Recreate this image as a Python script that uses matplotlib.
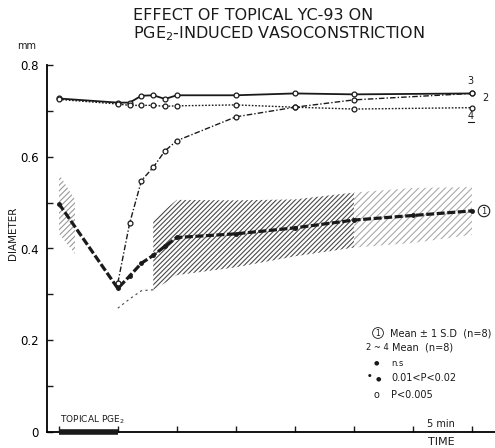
import matplotlib
matplotlib.use("Agg")
import matplotlib.pyplot as plt
import numpy as np
from matplotlib.patches import Rectangle

# ---------------- data ----------------
t_main = [0, 5, 6, 7, 8, 9, 10, 15, 20, 25, 35]          # minutes
curve3 = [0.727, 0.718, 0.718, 0.733, 0.734, 0.726, 0.734, 0.734, 0.738, 0.736, 0.738]
curve4 = [0.725, 0.715, 0.712, 0.712, 0.712, 0.710, 0.711, 0.713, 0.708, 0.704, 0.707]
t_c2 = [5, 6, 7, 8, 9, 10, 15, 20, 25, 35]
curve2 = [0.325, 0.455, 0.548, 0.577, 0.613, 0.635, 0.687, 0.708, 0.724, 0.738]
t_c1 = [0, 5, 6, 7, 8, 9, 10, 15, 20, 25, 30, 35]
mean1 = [0.498, 0.313, 0.340, 0.368, 0.385, 0.405, 0.424, 0.432, 0.445, 0.462, 0.472, 0.482]
sd1 = [0.065, 0.043, 0.050, 0.060, 0.075, 0.080, 0.082, 0.073, 0.062, 0.060, 0.060, 0.052]
pge_period = [0, 5]
yticks_major = [0, 0.2, 0.4, 0.6, 0.8]
ytick_labels = ["0", "0.2", "0.4", "0.6", "0.8"]
yticks_minor = [0.1, 0.3, 0.5, 0.7]
xticks = [0, 5, 10, 15, 20, 25, 30, 35]

plt.rcParams['hatch.linewidth'] = 0.8
W, H = 495, 448
fig = plt.figure(figsize=(W / 100, H / 100), dpi=100)
ax = fig.add_axes([47 / W, 1 - 432 / H, 1 - 47 / W, (432 - 65) / H])
ax.set_xlim(-1.0, 36.95)
ax.set_ylim(0, 0.8)

t1 = np.array(t_c1, float)
m1 = np.array(mean1)
s1 = np.array(sd1)
ink = '#1a1a1a'

# SD band: left patch (clipped near start)
band_left = ax.fill_between(t1[:2], (m1 - s1)[:2], (m1 + s1)[:2], facecolor='none',
                            edgecolor='#9a9a9a', hatch='//////', linewidth=0)
band_left.set_clip_path(Rectangle((0, 0), 1.4, 0.8, transform=ax.transData))
# main dark band
w_dark = (t1 >= 8) & (t1 <= 25)
ax.fill_between(t1, m1 - s1, m1 + s1, where=w_dark, facecolor='none',
                edgecolor='#4a4a4a', hatch='///////', linewidth=0)
# lighter band at the end
w_light = t1 >= 25
ax.fill_between(t1, m1 - s1, m1 + s1, where=w_light, facecolor='none',
                edgecolor='#aaaaaa', hatch='/////', linewidth=0)
# lower SD bound near the trough
ax.plot(t1[1:5], (m1 - s1)[1:5], linestyle=(0, (2, 3)), color='#444444', lw=0.8)

# curve 1 mean
ax.plot(t1, m1, color=ink, lw=2.3, linestyle=(0, (2.5, 0.8)), marker='o',
        markersize=2.5, markerfacecolor=ink, markeredgecolor=ink)

# curves 2-4
ax.plot(t_main, curve3, color=ink, lw=1.3, linestyle='-', marker='o', markersize=3.5,
        markerfacecolor='white', markeredgecolor=ink, markeredgewidth=0.9)
ax.plot(t_main, curve4, color=ink, lw=1.0, linestyle=(0, (1.2, 1.2)), marker='o', markersize=3.5,
        markerfacecolor='white', markeredgecolor=ink, markeredgewidth=0.9)
ax.plot(t_c2, curve2, color=ink, lw=1.0, linestyle=(0, (4, 1.5, 1, 1.5)), marker='o', markersize=3.5,
        markerfacecolor='white', markeredgecolor=ink, markeredgewidth=0.9)

# PGE2 bar
ax.plot(pge_period, [0, 0], color=ink, lw=4, solid_capstyle='butt', clip_on=False, zorder=5)

# axes styling
for s in ['top', 'right']:
    ax.spines[s].set_visible(False)
ax.spines['left'].set_linewidth(1.3)
ax.spines['bottom'].set_linewidth(1.3)
ax.set_yticks(yticks_major)
ax.set_yticklabels(ytick_labels, fontsize=8.5)
ax.set_yticks(yticks_minor, minor=True)
ax.set_xticks(xticks)
ax.set_xticklabels([])
ax.tick_params(axis='both', which='both', direction='in', length=4, width=1, color=ink)
ax.tick_params(axis='y', which='major', pad=6)

def px(x, y):
    return x / W, 1 - y / H

# titles and labels
fig.text(*px(133, 15), "EFFECT OF TOPICAL YC-93 ON", fontsize=11.5, ha='left', va='center', color=ink)
fig.text(*px(133, 34), "PGE$_2$-INDUCED VASOCONSTRICTION", fontsize=11.5, ha='left', va='center', color=ink)
fig.text(*px(27, 46), "mm", fontsize=7, ha='center', va='center', color=ink)
fig.text(*px(13, 233), "DIAMETER", fontsize=7.5, rotation=90, ha='center', va='center', color=ink)
fig.text(*px(441, 442), "TIME", fontsize=8, ha='center', va='center', color=ink)
fig.text(*px(441, 424), "5 min", fontsize=7, ha='center', va='center', color=ink)
fig.text(*px(60, 420), "TOPICAL PGE$_2$", fontsize=6.5, ha='left', va='center', color=ink)

# curve labels
fig.text(*px(470, 81), "3", fontsize=7, ha='center', va='center', color=ink)
fig.text(*px(485, 98), "2", fontsize=7, ha='center', va='center', color=ink)
fig.text(*px(471, 116), "4", fontsize=7, ha='center', va='center', color=ink)
fig.add_artist(plt.Line2D([468 / W, 474 / W], [1 - 122 / H, 1 - 122 / H], color=ink, lw=0.8))
fig.text(*px(484, 211), "1", fontsize=6, ha='center', va='center', color=ink,
         bbox=dict(boxstyle='circle,pad=0.15', fc='white', ec=ink, lw=0.8))

# legend
fs = 7
fig.text(*px(378, 333), "1", fontsize=5.5, ha='center', va='center', color=ink,
         bbox=dict(boxstyle='circle,pad=0.12', fc='white', ec=ink, lw=0.6))
fig.text(*px(390, 333), "Mean ± 1 S.D  (n=8)", fontsize=fs, ha='left', va='center', color=ink)
fig.text(*px(377, 347), "2 ~ 4", fontsize=6, ha='center', va='center', color=ink)
fig.text(*px(392, 347), "Mean  (n=8)", fontsize=fs, ha='left', va='center', color=ink)
fig.text(*px(376, 363), "●", fontsize=4.5, ha='center', va='center', color=ink)
fig.text(*px(391, 363), "n.s", fontsize=6, ha='left', va='center', color=ink)
fig.text(*px(370, 376), "●", fontsize=3, ha='center', va='center', color=ink)
fig.text(*px(378, 379), "●", fontsize=4.5, ha='center', va='center', color=ink)
fig.text(*px(391, 378), "0.01<P<0.02", fontsize=fs, ha='left', va='center', color=ink)
fig.text(*px(376, 395), "o", fontsize=7, ha='center', va='center', color=ink)
fig.text(*px(391, 395), "P<0.005", fontsize=fs, ha='left', va='center', color=ink)

fig.savefig("out.png", dpi=100, facecolor='white')
